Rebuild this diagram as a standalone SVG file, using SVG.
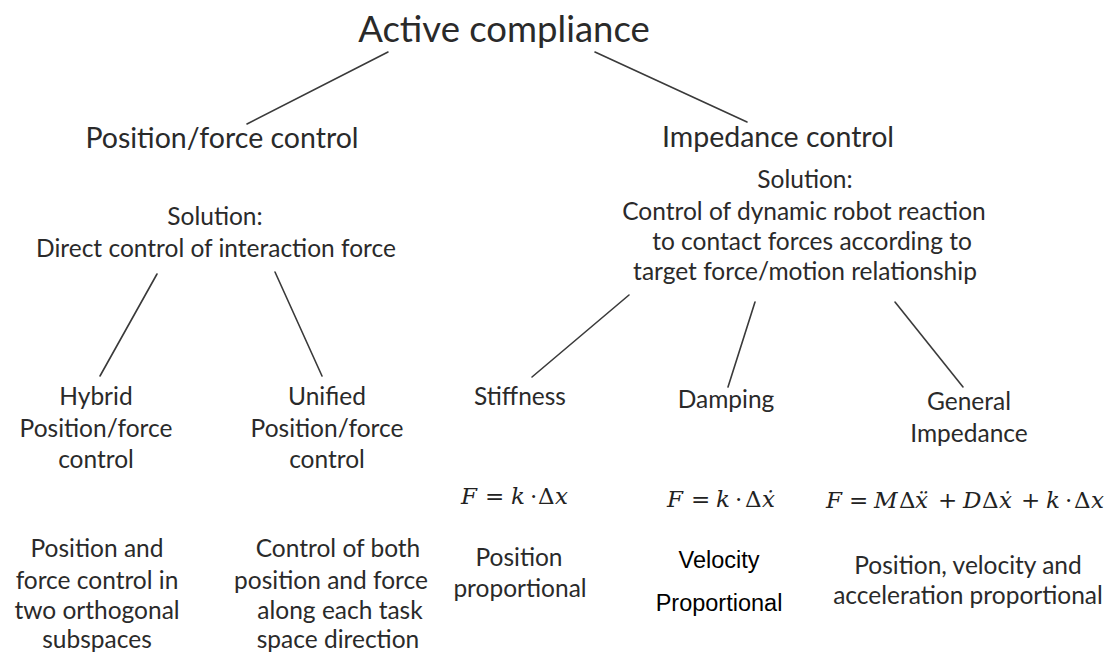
<svg xmlns="http://www.w3.org/2000/svg" width="1120" height="657" viewBox="0 0 1120 657">
<style>
  .t { font-family: Lato, "Open Sans", sans-serif; fill: #2a2a2a; text-anchor: middle; }
  .title { font-size: 36.5px; }
  .h1 { font-size: 28.5px; }
  .b { font-size: 24.5px; }
  .a { font-family: "Liberation Sans", Arial, sans-serif; font-size: 23.5px; fill: #000; text-anchor: middle; }
  .m { font-family: "DejaVu Serif", "Liberation Serif", serif; font-size: 23px; fill: #222; }
  .i { font-style: italic; }
  .c line { stroke: #3a3a3a; stroke-width: 1.6; stroke-linecap: round; }
</style>
<rect width="1120" height="657" fill="#fff"/>
<g class="c" id="connectors">
  <line x1="388" y1="52" x2="247" y2="124"/>
  <line x1="595" y1="52" x2="747" y2="122"/>
  <line x1="157" y1="274" x2="100" y2="376"/>
  <line x1="275" y1="272" x2="322" y2="376"/>
  <line x1="629" y1="295" x2="532" y2="377"/>
  <line x1="755" y1="302" x2="728" y2="387"/>
  <line x1="895" y1="302" x2="963" y2="387"/>
</g>
<g id="root"><text class="t title" x="504" y="42">Active compliance</text></g>
<g id="posforce">
  <text class="t h1" x="222" y="148">Position/force control</text>
  <text class="t b" x="215" y="225">Solution:</text>
  <text class="t b" x="216" y="257">Direct control of interaction force</text>
</g>
<g id="impedance">
  <text class="t h1" x="778" y="147">Impedance control</text>
  <text class="t b" x="805" y="188">Solution:</text>
  <text class="t b" x="804" y="220">Control of dynamic robot reaction</text>
  <text class="t b" x="812" y="250">to contact forces according to</text>
  <text class="t b" x="805" y="280">target force/motion relationship</text>
</g>
<g id="hybrid">
  <text class="t b" x="96" y="405">Hybrid</text>
  <text class="t b" x="96" y="437">Position/force</text>
  <text class="t b" x="96" y="468">control</text>
  <text class="t b" x="97" y="557">Position and</text>
  <text class="t b" x="97" y="589">force control in</text>
  <text class="t b" x="97" y="619">two orthogonal</text>
  <text class="t b" x="97" y="648">subspaces</text>
</g>
<g id="unified">
  <text class="t b" x="327" y="405">Unified</text>
  <text class="t b" x="327" y="437">Position/force</text>
  <text class="t b" x="327" y="468">control</text>
  <text class="t b" x="338" y="557">Control of both</text>
  <text class="t b" x="331" y="589">position and force</text>
  <text class="t b" x="340" y="619">along each task</text>
  <text class="t b" x="338" y="648">space direction</text>
</g>
<g id="stiffness">
  <text class="t b" x="520" y="405">Stiffness</text>
  <text class="m" y="504"><tspan class="i" x="461">F</tspan><tspan x="485">=</tspan><tspan class="i" x="511">k</tspan><tspan x="530">·</tspan><tspan x="538">Δ</tspan><tspan class="i" x="555">x</tspan></text>
  <text class="t b" x="519" y="566">Position</text>
  <text class="t b" x="520" y="597">proportional</text>
</g>
<g id="damping">
  <text class="t b" x="726" y="408">Damping</text>
  <text class="m" y="507"><tspan class="i" x="667">F</tspan><tspan x="691">=</tspan><tspan class="i" x="716">k</tspan><tspan x="735">·</tspan><tspan x="745">Δ</tspan><tspan class="i" x="762">ẋ</tspan></text>
  <text class="a" x="719" y="568">Velocity</text>
  <text class="a" x="719" y="611">Proportional</text>
</g>
<g id="general">
  <text class="t b" x="969" y="410">General</text>
  <text class="t b" x="969" y="442">Impedance</text>
  <text class="m" y="508"><tspan class="i" x="826">F</tspan><tspan x="849">=</tspan><tspan class="i" x="874">M</tspan><tspan x="899">Δ</tspan><tspan class="i" x="915">ẍ</tspan><tspan x="938">+</tspan><tspan class="i" x="963">D</tspan><tspan x="982">Δ</tspan><tspan class="i" x="999">ẋ</tspan><tspan x="1021">+</tspan><tspan class="i" x="1046">k</tspan><tspan x="1065">·</tspan><tspan x="1074">Δ</tspan><tspan class="i" x="1091">x</tspan></text>
  <text class="t b" x="968" y="574">Position, velocity and</text>
  <text class="t b" x="968" y="604">acceleration proportional</text>
</g>
</svg>
